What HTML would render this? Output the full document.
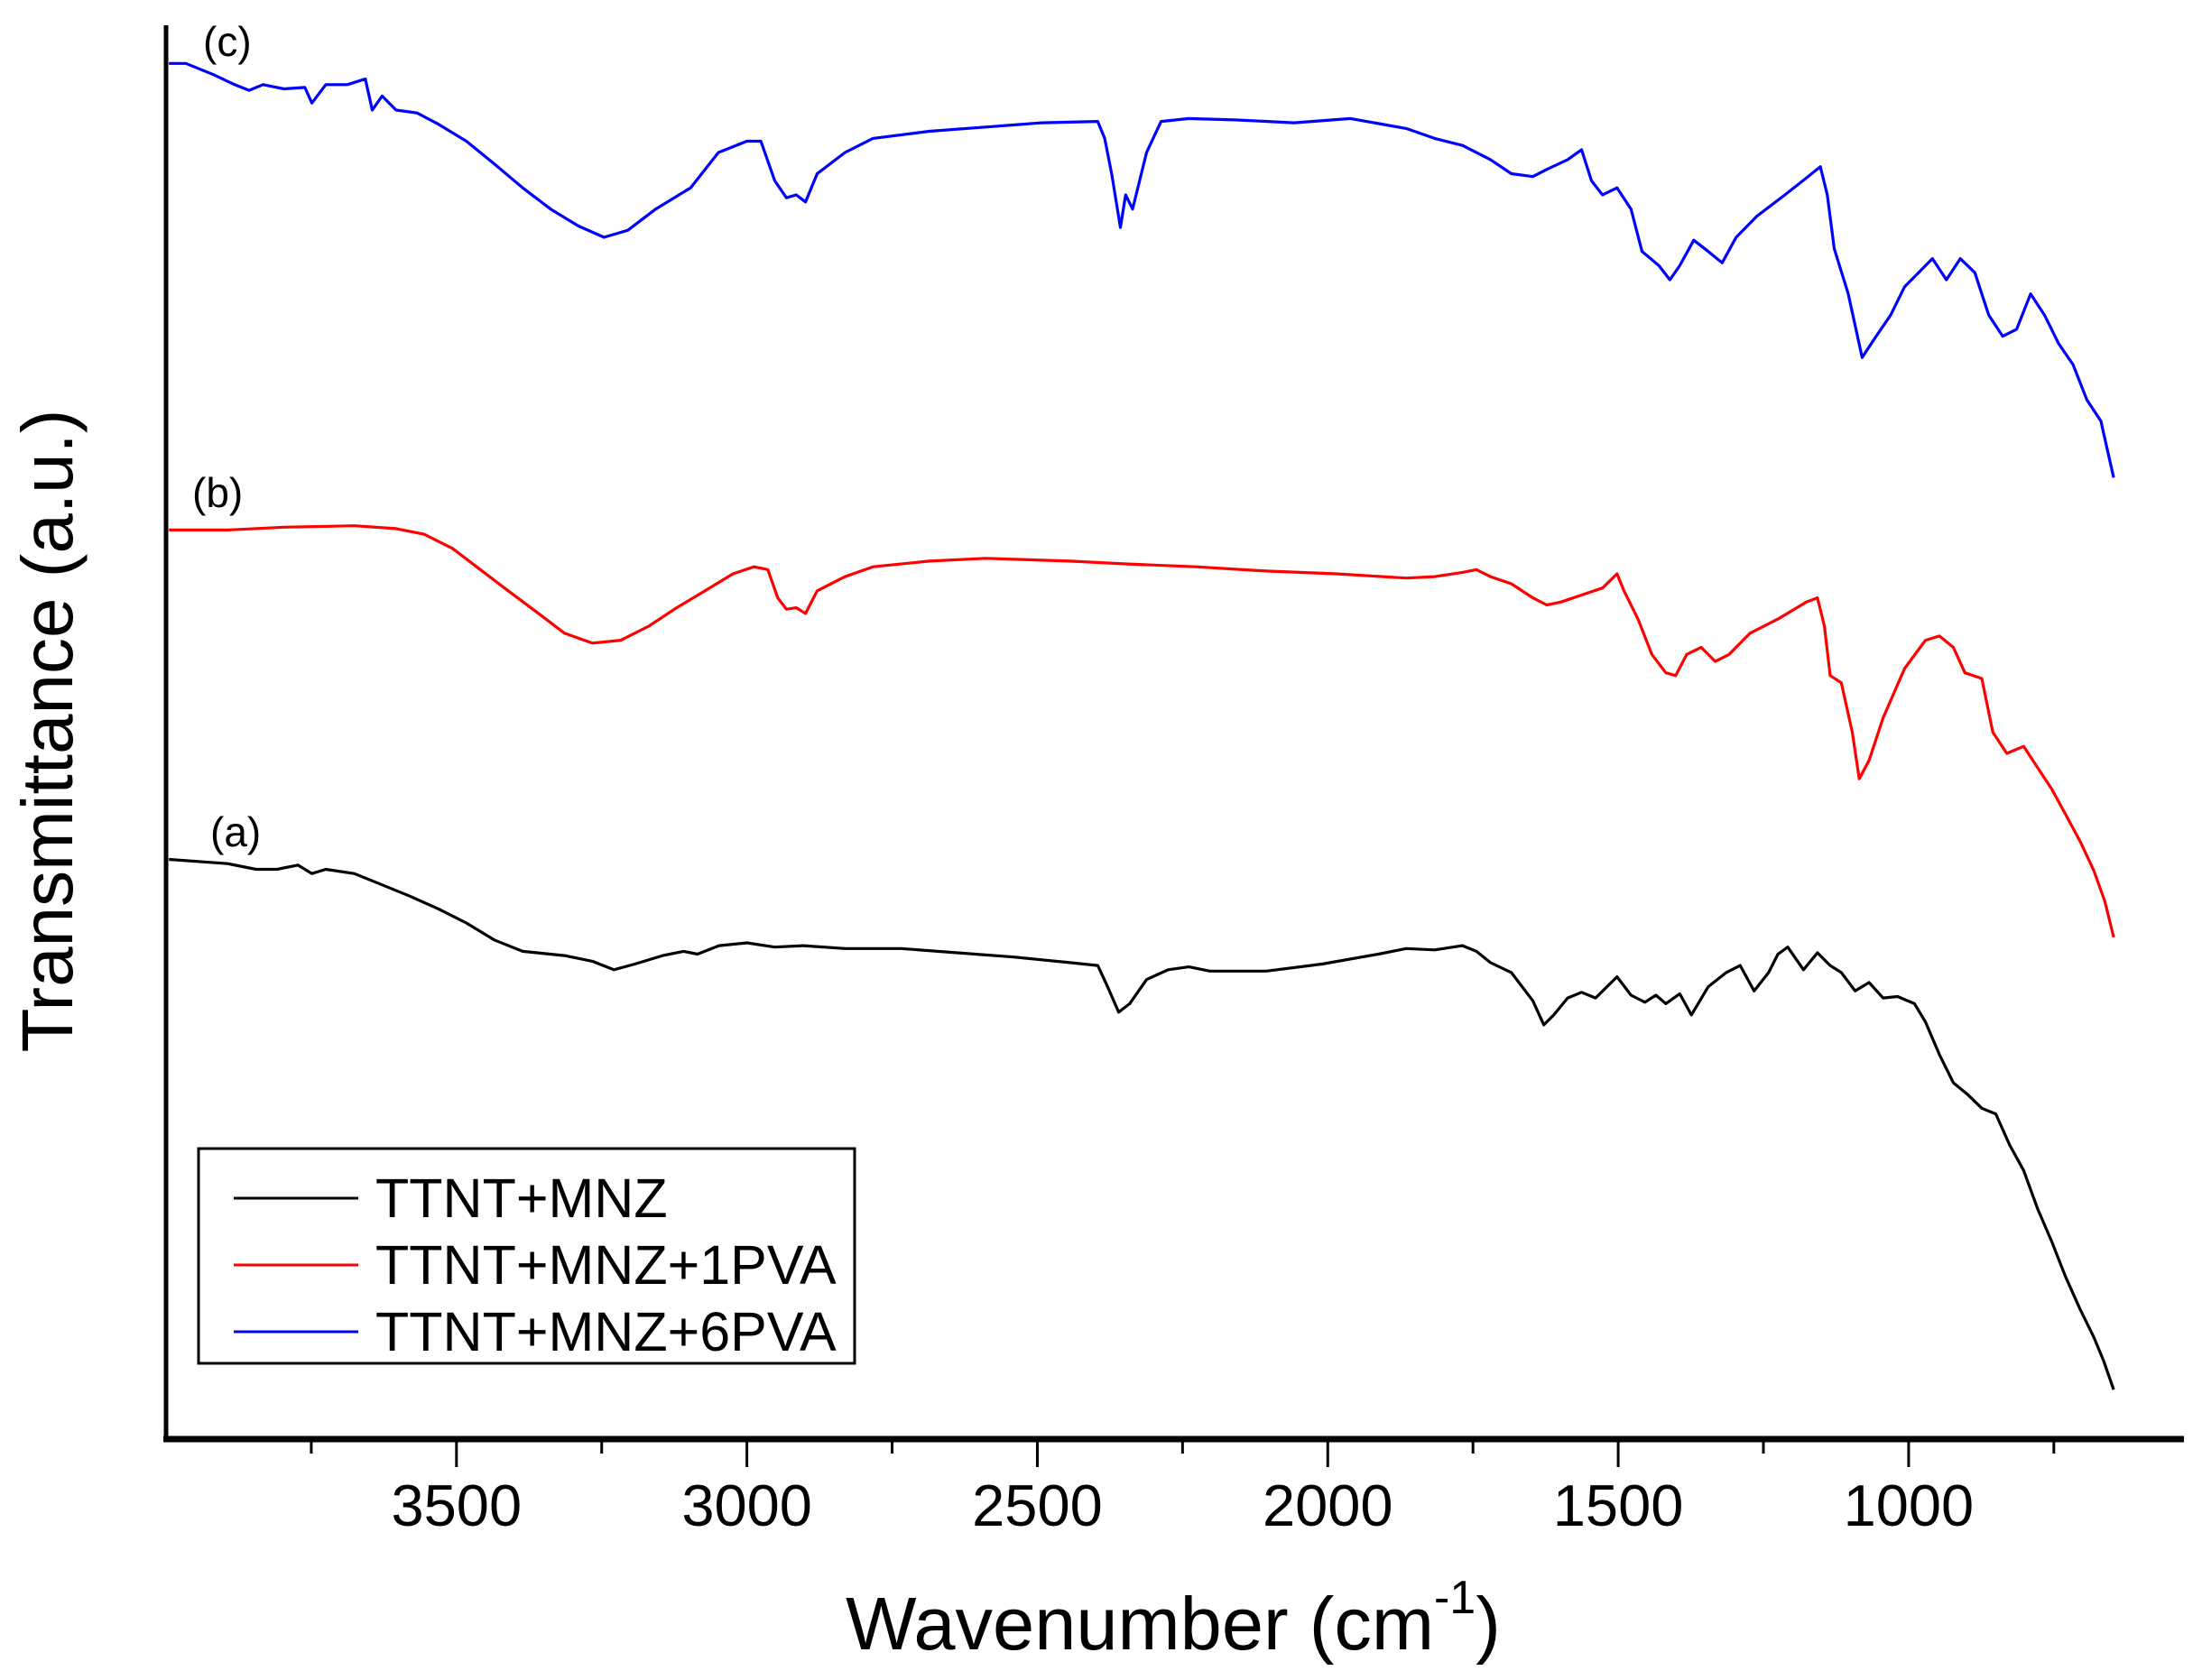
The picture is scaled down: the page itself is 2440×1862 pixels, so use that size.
<!DOCTYPE html>
<html><head><meta charset="utf-8"><style>
html,body{margin:0;padding:0;background:#fff;}
svg{display:block;font-family:"Liberation Sans",Arial,sans-serif;}
</style></head><body>
<svg id="chart" width="2440" height="1862" viewBox="0 0 2440 1862" xmlns="http://www.w3.org/2000/svg">
<rect width="2440" height="1862" fill="#fff"/>
<g id="series"></g>
<g id="axes"></g>
<text x="225" y="62" font-size="46">(c)</text>
<text x="213" y="562" font-size="46">(b)</text>
<text x="233" y="938" font-size="46">(a)</text>
<text x="1300" y="1828" font-size="83" text-anchor="middle">Wavenumber (cm<tspan font-size="52" dy="-40">-1</tspan><tspan dy="40">)</tspan></text>
<text transform="translate(80,810) rotate(-90)" font-size="80" text-anchor="middle">Transmittance (a.u.)</text>
<g>
<rect x="220" y="1273" width="727" height="238" fill="#fff" stroke="#000" stroke-width="3"/>
<line x1="259" y1="1328" x2="397" y2="1328" stroke="#000" stroke-width="3"/>
<text x="416" y="1349" font-size="61">TTNT+MNZ</text>
<line x1="259" y1="1402" x2="397" y2="1402" stroke="#ff0000" stroke-width="3"/>
<text x="416" y="1423" font-size="61">TTNT+MNZ+1PVA</text>
<line x1="259" y1="1476" x2="397" y2="1476" stroke="#0000ff" stroke-width="3"/>
<text x="416" y="1497" font-size="61">TTNT+MNZ+6PVA</text>
</g>
</svg>
<script>
const xMajorTicks=[3500,3000,2500,2000,1500,1000];
const xMinorTicks=[3750,3250,2750,2250,1750,1250,750];
const xTickLabels=["3500","3000","2500","2000","1500","1000"];

const wnA=[3995,3894,3845,3809,3773,3749,3725,3676,3628,3580,3531,3483,3435,3386,3314,3266,3229,3193,3145,3109,3085,3048,3000,2952,2903,2831,2734,2638,2541,2444,2396,2379,2360,2341,2312,2275,2239,2203,2106,2010,1913,1865,1816,1768,1744,1720,1684,1647,1628,1611,1587,1563,1539,1502,1478,1454,1435,1418,1394,1374,1345,1314,1290,1266,1241,1225,1208,1181,1157,1135,1116,1092,1068,1044,1019,990,971,947,923,899,874,850,826,802,778,754,730,705,681,664,647];
const tA=[41.0,40.7,40.3,40.3,40.6,40.0,40.3,40.0,39.2,38.4,37.5,36.5,35.3,34.5,34.2,33.8,33.2,33.6,34.2,34.5,34.3,34.9,35.1,34.8,34.9,34.7,34.7,34.4,34.1,33.7,33.5,32.0,30.2,30.8,32.5,33.2,33.4,33.1,33.1,33.6,34.3,34.7,34.6,34.9,34.5,33.7,33.0,31.0,29.3,30.0,31.2,31.6,31.2,32.7,31.4,30.9,31.4,30.8,31.5,30.0,32.0,33.0,33.5,31.7,33.0,34.3,34.8,33.2,34.4,33.5,33.0,31.7,32.3,31.2,31.3,30.8,29.5,27.2,25.2,24.4,23.4,23.0,20.8,19.0,16.3,14.0,11.5,9.2,7.2,5.5,3.5];

const wnB=[3995,3894,3797,3676,3604,3556,3507,3459,3411,3362,3314,3266,3217,3169,3121,3072,3024,2988,2964,2947,2932,2915,2899,2879,2831,2783,2686,2589,2444,2348,2227,2106,1985,1865,1816,1768,1744,1720,1684,1647,1623,1599,1563,1527,1502,1490,1466,1442,1418,1401,1382,1357,1333,1309,1273,1225,1176,1157,1145,1135,1116,1097,1085,1068,1044,1007,971,947,923,903,874,855,831,802,778,754,730,705,681,662,647];
const tB=[64.3,64.3,64.5,64.6,64.4,64.0,63.0,61.5,60.0,58.5,57.0,56.3,56.5,57.5,58.8,60.0,61.2,61.7,61.5,59.5,58.7,58.8,58.4,60.0,61.0,61.7,62.1,62.3,62.1,61.9,61.7,61.4,61.2,60.9,61.0,61.3,61.5,61.0,60.5,59.5,59.0,59.2,59.7,60.2,61.2,60.0,58.0,55.5,54.2,54.0,55.5,56.0,55.0,55.5,57.0,58.0,59.2,59.5,57.5,54.0,53.5,50.0,46.7,48.0,51.0,54.5,56.5,56.8,56.0,54.2,53.8,50.0,48.5,49.0,47.5,46.0,44.2,42.3,40.2,38.0,35.5];

const wnC=[3995,3966,3918,3882,3857,3833,3797,3761,3749,3725,3688,3657,3645,3628,3604,3568,3531,3483,3435,3386,3338,3290,3246,3205,3157,3097,3049,3000,2976,2952,2932,2915,2899,2879,2831,2783,2686,2589,2493,2396,2384,2372,2357,2348,2336,2312,2287,2239,2155,2058,1961,1865,1816,1768,1720,1684,1647,1623,1587,1563,1546,1527,1502,1478,1459,1430,1411,1394,1370,1345,1321,1297,1261,1213,1176,1152,1140,1128,1104,1080,1056,1031,1007,983,959,935,911,886,862,838,814,790,766,742,717,693,669,647];
const tC=[97.3,97.3,96.5,95.8,95.4,95.8,95.5,95.6,94.5,95.8,95.8,96.2,94.0,95.0,94.0,93.8,93.0,91.8,90.2,88.5,87.0,85.8,85.0,85.5,87.0,88.5,91.0,91.8,91.8,89.0,87.8,88.0,87.5,89.5,91.0,92.0,92.5,92.8,93.1,93.2,92.0,89.5,85.7,88.0,87.0,91.0,93.2,93.4,93.3,93.1,93.4,92.7,92.0,91.5,90.5,89.5,89.3,89.8,90.5,91.2,89.0,88.0,88.5,87.0,84.0,83.0,82.0,83.0,84.8,84.0,83.2,85.0,86.5,88.0,89.2,90.0,88.0,84.2,81.0,76.5,78.0,79.5,81.5,82.5,83.5,82.0,83.5,82.5,79.5,78.0,78.5,81.0,79.5,77.5,76.0,73.5,72.0,68.0];

const NS="http://www.w3.org/2000/svg";
const X0=184,X1=2420,Y0=1595,Y1=28;
function xs(w){return X0+(4000-w)/(4000-526)*(X1-X0);}
function ys(v){return Y0-v/100*(Y0-Y1);}
const sg=document.getElementById('series');
const ag=document.getElementById('axes');
function drawSeries(wn,t,color,name){
  const p=document.createElementNS(NS,'path');
  let d='';
  for(let i=0;i<wn.length;i++){d+=(i?'L':'M')+xs(wn[i]).toFixed(1)+','+ys(t[i]).toFixed(1);}
  p.setAttribute('d',d);
  p.setAttribute('fill','none');
  p.setAttribute('stroke',color);
  p.setAttribute('stroke-width','3.2');
  p.setAttribute('stroke-linejoin','round');
  
  
  sg.appendChild(p);
}
drawSeries(wnA,tA,'#000000','series-ttnt-mnz');
drawSeries(wnB,tB,'#ff0000','series-ttnt-mnz-1pva');
drawSeries(wnC,tC,'#0000ff','series-ttnt-mnz-6pva');

function mk(tag,attrs){const e=document.createElementNS(NS,tag);for(const k in attrs)e.setAttribute(k,attrs[k]);ag.appendChild(e);return e;}
const yAxis=mk('line',{x1:X0,y1:Y1,x2:X0,y2:Y0+3,stroke:'#000','stroke-width':5});


const xAxis=mk('line',{x1:X0-3,y1:Y0,x2:X1,y2:Y0,stroke:'#000','stroke-width':7});


xMajorTicks.forEach((w,i)=>{
  const t=mk('line',{x1:xs(w),y1:Y0,x2:xs(w),y2:Y0+31,stroke:'#000','stroke-width':3});
  
  
  const l=mk('text',{x:xs(w),y:1691,'font-size':65,'text-anchor':'middle'});
  l.textContent=xTickLabels[i];
  
  
});
xMinorTicks.forEach(w=>{
  const t=mk('line',{x1:xs(w),y1:Y0,x2:xs(w),y2:Y0+16,stroke:'#000','stroke-width':3});
  
  
});
</script>
</body></html>
